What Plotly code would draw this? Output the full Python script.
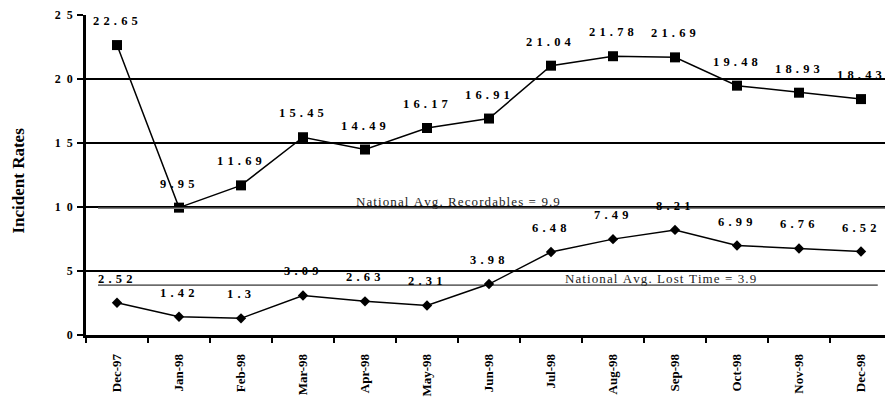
import plotly.graph_objects as go

# Monthly incident rates
months = ["Dec-97", "Jan-98", "Feb-98", "Mar-98", "Apr-98", "May-98", "Jun-98",
          "Jul-98", "Aug-98", "Sep-98", "Oct-98", "Nov-98", "Dec-98"]
recordables = [22.65, 9.95, 11.69, 15.45, 14.49, 16.17, 16.91,
               21.04, 21.78, 21.69, 19.48, 18.93, 18.43]
lost_time = [2.52, 1.42, 1.3, 3.09, 2.63, 2.31, 3.98,
             6.48, 7.49, 8.21, 6.99, 6.76, 6.52]

# National averages
nat_avg_recordables = 9.9
nat_avg_lost_time = 3.9

y_ticks = [0, 5, 10, 15, 20, 25]

SERIF = "Liberation Serif, Times New Roman, serif"


def spaced(s, gap="\u2004"):
    """Letter-spaced text: a narrow space between every character."""
    return gap.join(str(s))


fig = go.Figure()

fig.add_trace(go.Scatter(
    x=months, y=recordables, mode="lines+markers",
    line=dict(color="black", width=1.5),
    marker=dict(symbol="square", size=10, color="black"),
    hoverinfo="skip", showlegend=False,
))
fig.add_trace(go.Scatter(
    x=months, y=lost_time, mode="lines+markers",
    line=dict(color="black", width=1.5),
    marker=dict(symbol="diamond", size=8, color="black"),
    hoverinfo="skip", showlegend=False,
))

annotations = []
for series in (recordables, lost_time):
    for m, v in zip(months, series):
        annotations.append(dict(
            x=m, y=v, text=spaced(v), showarrow=False,
            xanchor="center", yanchor="middle", yshift=24, xshift=-2,
            font=dict(family=SERIF, size=12.5, color="black", weight="bold"),
        ))

# National average reference lines
n = len(months)
x_start = -0.306
lines = [
    (nat_avg_recordables, "National Avg. Recordables", "#808080", 1.5, n - 0.613, 5.5),
    (nat_avg_lost_time, "National Avg. Lost Time", "black", 1, n - 0.73, 8.76),
]
shapes = []
for val, name, color, width, x_end, tx in lines:
    shapes.append(dict(type="line", xref="x", yref="y",
                       x0=x_start, x1=x_end, y0=val, y1=val,
                       line=dict(color=color, width=width)))
    annotations.append(dict(
        x=tx, y=val, text=spaced(f"{name} = {val}", "\u200a"), showarrow=False,
        xanchor="center", yanchor="bottom", yshift=-3,
        font=dict(family=SERIF, size=13, color="#222"),
    ))

# Vertical axis title
annotations.append(dict(
    xref="paper", yref="paper", x=-0.085, y=0.483, text="Incident Rates",
    textangle=-90, showarrow=False, xanchor="center", yanchor="middle",
    font=dict(family=SERIF, size=17, color="black", weight="bold"),
))

fig.update_layout(
    width=885, height=400,
    margin=dict(l=86, r=0, t=15, b=65),
    plot_bgcolor="white", paper_bgcolor="white",
    shapes=shapes, annotations=annotations,
    xaxis=dict(
        type="category", range=[-0.5, n - 0.613], automargin=False,
        showgrid=False, showline=True, linecolor="black", linewidth=2.5,
        ticks="outside", tickson="boundaries", ticklen=5, tickwidth=1.5,
        tickcolor="black", tickangle=-90, ticklabelstandoff=11,
        tickfont=dict(family=SERIF, size=13, color="black", weight="bold"),
        zeroline=False,
    ),
    yaxis=dict(
        range=[0, 25], tickvals=y_ticks, automargin=False,
        ticktext=[spaced(t, "\u2002") for t in y_ticks],
        showgrid=True, gridcolor="black", gridwidth=1.5,
        showline=True, linecolor="black", linewidth=2.5,
        ticks="outside", ticklen=6, tickwidth=1.5, tickcolor="black",
        ticklabelstandoff=2,
        tickfont=dict(family=SERIF, size=12, color="black", weight="bold"),
        zeroline=False,
    ),
)

fig.write_html("out.html")
